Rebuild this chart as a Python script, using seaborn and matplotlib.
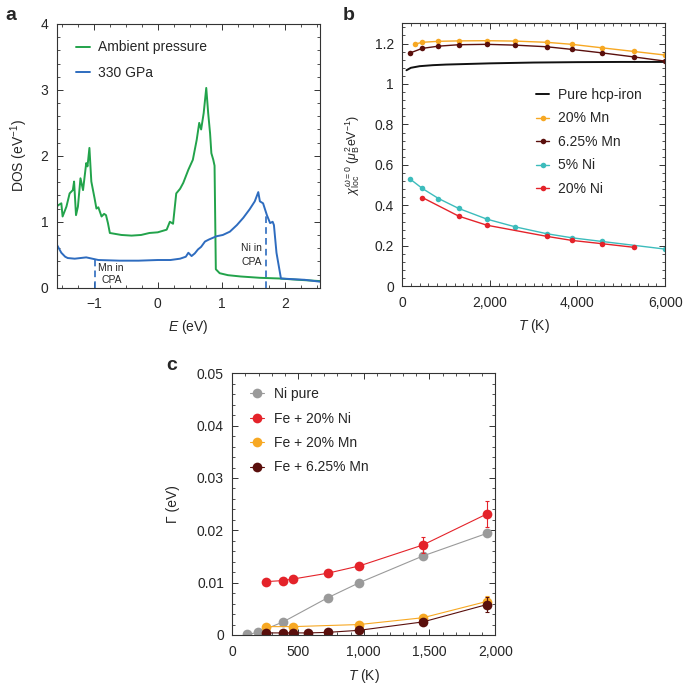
import numpy as np
import pandas as pd
import matplotlib
matplotlib.use("Agg")
import matplotlib.pyplot as plt
from matplotlib.ticker import MultipleLocator, FuncFormatter
import seaborn as sns

sns.set_theme(style="ticks")
plt.rcParams['font.family'] = ['Liberation Sans', 'DejaVu Sans']
plt.rcParams['mathtext.fontset'] = 'custom'
plt.rcParams['mathtext.rm'] = 'Liberation Sans'
plt.rcParams['mathtext.it'] = 'Liberation Sans:italic'
plt.rcParams['axes.unicode_minus'] = True

# ---------------- Panel a data ----------------
E_amb = [-1.59, -1.56, -1.51, -1.49, -1.43, -1.38, -1.33, -1.31, -1.28, -1.25, -1.21, -1.17,
         -1.12, -1.10, -1.07, -1.04, -0.99, -0.96, -0.93, -0.88, -0.84, -0.81, -0.78, -0.75,
         -0.57, -0.41, -0.26, -0.13, 0.00, 0.14, 0.19, 0.24, 0.29, 0.35, 0.40, 0.48, 0.55,
         0.61, 0.65, 0.68, 0.72, 0.76, 0.79, 0.82, 0.84, 0.87, 0.89, 0.91, 0.93, 0.97, 1.10,
         1.30, 1.60, 1.90, 2.20, 2.55]
DOS_amb = [1.22, 1.25, 1.28, 1.08, 1.23, 1.43, 1.48, 1.61, 1.10, 1.23, 1.66, 1.48,
           1.89, 1.84, 2.12, 1.61, 1.36, 1.20, 1.22, 1.08, 1.12, 1.10, 0.98, 0.83,
           0.80, 0.79, 0.80, 0.83, 0.84, 0.88, 1.00, 0.97, 1.43, 1.50, 1.59, 1.79, 1.94,
           2.24, 2.50, 2.40, 2.65, 3.03, 2.65, 2.34, 2.04, 1.94, 1.85, 0.28, 0.26, 0.22, 0.19,
           0.17, 0.15, 0.14, 0.12, 0.10]

E_hp = [-1.59, -1.55, -1.51, -1.45, -1.41, -1.30, -1.12, -0.93, -0.60, -0.30, 0.00, 0.20,
        0.35, 0.44, 0.48, 0.53, 0.58, 0.63, 0.68, 0.74, 0.80, 0.92, 1.02, 1.13, 1.24, 1.34,
        1.44, 1.52, 1.575, 1.60, 1.65, 1.71, 1.76, 1.80, 1.82, 1.86, 1.93, 2.10, 2.30, 2.55]
DOS_hp = [0.67, 0.60, 0.53, 0.47, 0.45, 0.44, 0.46, 0.42, 0.41, 0.41, 0.42, 0.42,
          0.44, 0.47, 0.53, 0.48, 0.52, 0.58, 0.62, 0.70, 0.73, 0.78, 0.80, 0.85, 0.95, 1.06,
          1.19, 1.31, 1.45, 1.31, 1.28, 1.10, 0.98, 1.00, 0.95, 0.53, 0.14, 0.13, 0.12, 0.09]

cpa_E = [-0.99, 1.69]
cpa_top = [0.45, 1.10]
cpa_labels = ["Mn in\nCPA", "Ni in\nCPA"]

# ---------------- Panel b data ----------------
T_iron = [100, 200, 400, 700, 1000, 1500, 2000, 3000, 4000, 5000, 6000]
chi_iron = [1.068, 1.080, 1.088, 1.093, 1.096, 1.099, 1.102, 1.106, 1.108, 1.109, 1.109]

T_mn20 = [290, 460, 830, 1290, 1935, 2580, 3300, 3870, 4550, 5280, 6000]
chi_mn20 = [1.197, 1.206, 1.211, 1.213, 1.214, 1.212, 1.206, 1.196, 1.179, 1.161, 1.143]

T_mn625 = [190, 460, 830, 1290, 1935, 2580, 3300, 3870, 4550, 5280, 6000]
chi_mn625 = [1.154, 1.176, 1.187, 1.194, 1.196, 1.192, 1.184, 1.171, 1.154, 1.134, 1.113]

T_ni5 = [190, 460, 830, 1290, 1935, 2580, 3300, 3870, 4550, 6000]
chi_ni5 = [0.529, 0.484, 0.434, 0.385, 0.332, 0.294, 0.260, 0.240, 0.222, 0.184]

T_ni20 = [460, 1290, 1935, 3300, 3870, 4550, 5280]
chi_ni20 = [0.439, 0.347, 0.302, 0.247, 0.227, 0.211, 0.193]

# ---------------- Panel c data ----------------
T_nipure = [116, 193, 387, 725, 967, 1450, 1934]
G_nipure = [0.0001, 0.0005, 0.0025, 0.0071, 0.0100, 0.0151, 0.0194]
Gerr_nipure = [0.0, 0.0, 0.0, 0.0, 0.0002, 0.0003, 0.0005]

T_feni20 = [258, 387, 464, 725, 967, 1450, 1934]
G_feni20 = [0.0102, 0.0104, 0.0107, 0.0118, 0.0132, 0.0172, 0.0231]
Gerr_feni20 = [0.0002, 0.0002, 0.0002, 0.0003, 0.0004, 0.0016, 0.0025]

T_femn20 = [258, 464, 967, 1450, 1934]
G_femn20 = [0.0016, 0.0016, 0.0020, 0.0033, 0.0064]
Gerr_femn20 = [0.0001, 0.0001, 0.0002, 0.0003, 0.0010]

T_femn625 = [258, 387, 464, 580, 725, 967, 1450, 1934]
G_femn625 = [0.0004, 0.0004, 0.0004, 0.0004, 0.0005, 0.0009, 0.0025, 0.0058]
Gerr_femn625 = [0.0001, 0.0001, 0.0001, 0.0001, 0.0001, 0.0002, 0.0004, 0.0015]

# colors
C_GREEN = "#22a34b"
C_BLUE = "#2e6cbf"
C_BLACK = "#111111"
C_ORANGE = "#f7a823"
C_BROWN = "#5a0f0c"
C_CYAN = "#3cbcbc"
C_RED = "#e4232a"
C_GREY = "#9a9a9a"

fig = plt.figure(figsize=(6.85, 6.85), dpi=100)
FS = 10


def style_axes(ax, xminor, yminor):
    for s in ax.spines.values():
        s.set_linewidth(0.8)
        s.set_color("#333333")
    ax.tick_params(which="both", direction="in", top=True, right=True,
                   color="#333333", labelsize=FS)
    ax.tick_params(axis="x", which="major", pad=7)
    ax.tick_params(axis="y", which="major", pad=6)
    ax.tick_params(which="major", length=4, width=0.7)
    ax.tick_params(which="minor", length=2, width=0.6)
    ax.xaxis.set_minor_locator(MultipleLocator(xminor))
    ax.yaxis.set_minor_locator(MultipleLocator(yminor))


def fmt_general(v, pos):
    if abs(v - round(v)) < 1e-9:
        s = f"{int(round(v))}"
    else:
        s = f"{v:g}"
    return s.replace("-", "\u2212")


def fmt_thousands(v, pos):
    return f"{int(round(v)):,}"


# ---------------- Panel a ----------------
axa = fig.add_axes([0.083, 0.580, 0.384, 0.385])
sns.lineplot(x=E_amb, y=DOS_amb, ax=axa, color=C_GREEN, lw=1.4, sort=False,
             estimator=None, label="Ambient pressure")
sns.lineplot(x=E_hp, y=DOS_hp, ax=axa, color=C_BLUE, lw=1.4, sort=False,
             estimator=None, label="330 GPa")
for e, top in zip(cpa_E, cpa_top):
    axa.plot([e, e], [0, top], ls=(0, (4, 2.5)), color=C_BLUE, lw=1.2)
axa.text(-0.94, 0.30, cpa_labels[0].split("\n")[0], fontsize=7.5, ha="left", va="center")
axa.text(-0.72, 0.12, cpa_labels[0].split("\n")[1], fontsize=7.5, ha="center", va="center")
axa.text(1.47, 0.60, cpa_labels[1].split("\n")[0], fontsize=7.5, ha="center", va="center")
axa.text(1.47, 0.39, cpa_labels[1].split("\n")[1], fontsize=7.5, ha="center", va="center")
axa.set_xlim(-1.58, 2.54)
axa.set_ylim(0, 4)
axa.set_xticks([-1, 0, 1, 2])
axa.set_yticks([0, 1, 2, 3, 4])
axa.xaxis.set_major_formatter(FuncFormatter(fmt_general))
style_axes(axa, 0.25, 0.2)
axa.set_xlabel(r"$E$ (eV)", fontsize=FS, labelpad=5)
axa.set_ylabel(r"DOS (eV$^{-1}$)", fontsize=FS, labelpad=8)
axa.legend(loc="upper left", frameon=False, fontsize=FS, handlelength=1.0,
           handletextpad=0.6, labelspacing=0.8, borderaxespad=0.5,
           bbox_to_anchor=(0.025, 0.985))

# ---------------- Panel b ----------------
axb = fig.add_axes([0.587, 0.582, 0.384, 0.384])
sns.lineplot(x=T_iron, y=chi_iron, ax=axb, color=C_BLACK, lw=1.4, sort=False,
             estimator=None, label="Pure hcp-iron")
for T, c, col, lab in [(T_mn20, chi_mn20, C_ORANGE, "20% Mn"),
                       (T_mn625, chi_mn625, C_BROWN, "6.25% Mn"),
                       (T_ni5, chi_ni5, C_CYAN, "5% Ni"),
                       (T_ni20, chi_ni20, C_RED, "20% Ni")]:
    sns.lineplot(x=T, y=c, ax=axb, color=col, lw=1.0, marker="o", markersize=4,
                 markeredgewidth=0, sort=False, estimator=None, label=lab)
axb.set_xlim(0, 6000)
axb.set_ylim(0, 1.3)
axb.set_xticks([0, 2000, 4000, 6000])
axb.set_yticks([0, 0.2, 0.4, 0.6, 0.8, 1.0, 1.2])
axb.xaxis.set_major_formatter(FuncFormatter(fmt_thousands))
axb.yaxis.set_major_formatter(FuncFormatter(fmt_general))
style_axes(axb, 200, 0.04)
axb.set_xlabel(r"$T$ (K)", fontsize=FS, labelpad=5)
axb.set_ylabel(r"$\chi_{\mathrm{loc}}^{\omega=0}$ ($\mu_{\mathrm{B}}^{2}\mathrm{eV}^{-1}$)",
               fontsize=9, labelpad=9)
axb.legend(loc="center left", bbox_to_anchor=(0.46, 0.549), frameon=False,
           fontsize=FS, handlelength=1.0, handletextpad=0.6, labelspacing=0.68)

# ---------------- Panel c ----------------
axc = fig.add_axes([0.339, 0.073, 0.384, 0.382])
for T, G, err, col, lab in [(T_nipure, G_nipure, Gerr_nipure, C_GREY, "Ni pure"),
                            (T_feni20, G_feni20, Gerr_feni20, C_RED, "Fe + 20% Ni"),
                            (T_femn20, G_femn20, Gerr_femn20, C_ORANGE, "Fe + 20% Mn"),
                            (T_femn625, G_femn625, Gerr_femn625, C_BROWN, "Fe + 6.25% Mn")]:
    axc.errorbar(T, G, yerr=err, fmt="none", ecolor=col, elinewidth=0.8, capsize=1.5,
                 capthick=0.8)
    sns.lineplot(x=T, y=G, ax=axc, color=col, lw=0.8, marker="o", markersize=7,
                 markeredgewidth=0, sort=False, estimator=None, label=lab)
axc.set_xlim(0, 2000)
axc.set_ylim(0, 0.05)
axc.set_xticks([0, 500, 1000, 1500, 2000])
axc.set_yticks([0, 0.01, 0.02, 0.03, 0.04, 0.05])
axc.xaxis.set_major_formatter(FuncFormatter(fmt_thousands))
axc.yaxis.set_major_formatter(FuncFormatter(fmt_general))
style_axes(axc, 100, 0.002)
axc.set_xlabel(r"$T$ (K)", fontsize=FS, labelpad=6)
axc.set_ylabel("\u0393 (eV)", fontsize=FS, labelpad=12)
axc.legend(loc="upper left", frameon=False, fontsize=FS, handlelength=1.0,
           handletextpad=0.7, labelspacing=0.75, bbox_to_anchor=(0.02, 0.995))

# panel letters
fig.text(0.008, 0.978, "a", fontsize=14, fontweight="bold", ha="left", va="center")
fig.text(0.500, 0.978, "b", fontsize=14, fontweight="bold", ha="left", va="center")
fig.text(0.243, 0.467, "c", fontsize=14, fontweight="bold", ha="left", va="center")

fig.savefig("out.png", dpi=100, facecolor="white")
